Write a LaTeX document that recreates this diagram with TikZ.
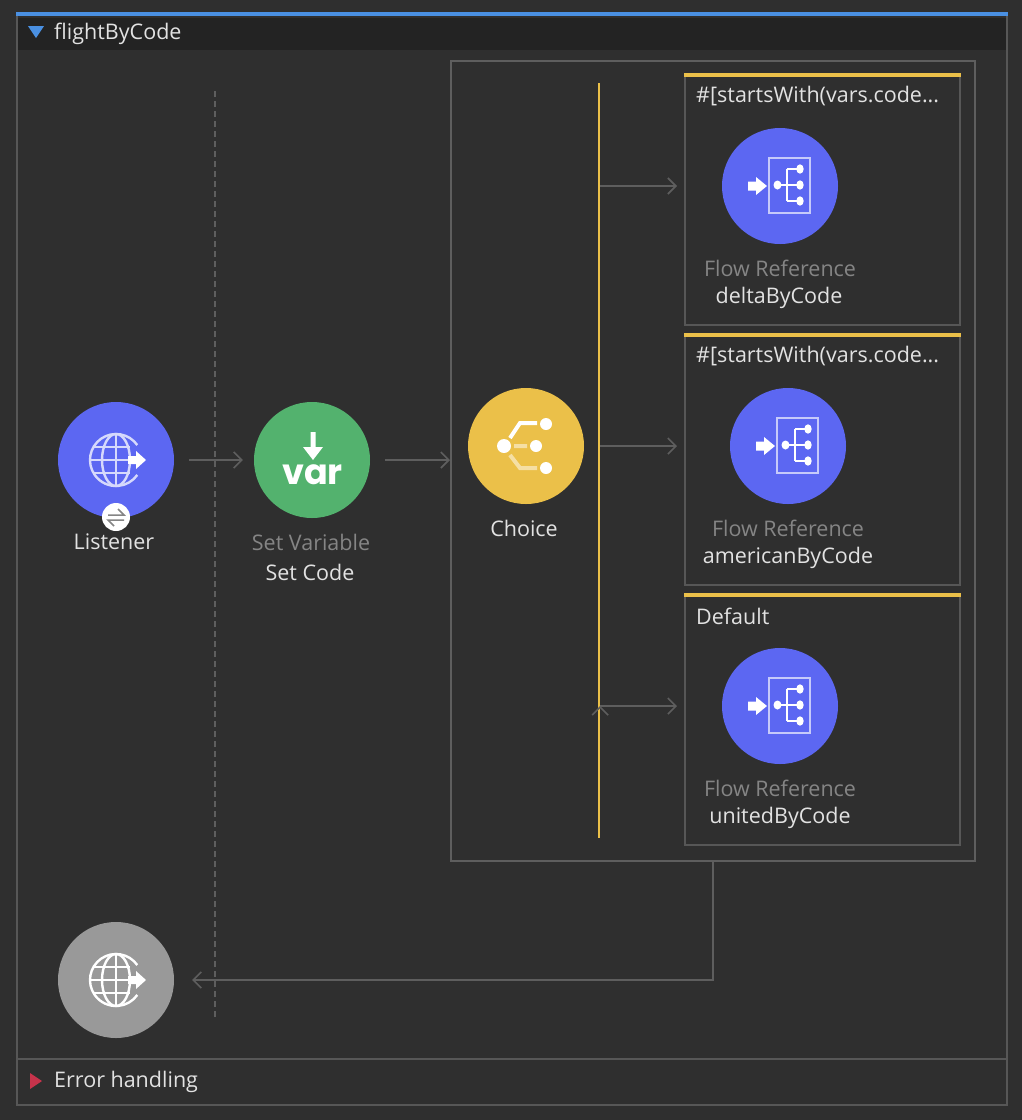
\documentclass[tikz,border=0pt]{standalone}
\usepackage{fontspec}
\setmainfont{Open Sans}
\newfontfamily\varfont{Poppins}
\usetikzlibrary{arrows.meta}
\definecolor{bgdark}{HTML}{2F2F2F}
\definecolor{headdark}{HTML}{232323}
\definecolor{framegrey}{HTML}{575757}
\definecolor{linegrey}{HTML}{5E5E5E}
\definecolor{flowblue}{HTML}{5C67F2}
\definecolor{vargreen}{HTML}{53B26E}
\definecolor{choiceyellow}{HTML}{EBC049}
\definecolor{topblue}{HTML}{4A90E2}
\definecolor{errred}{HTML}{C7334B}
\definecolor{labelgrey}{HTML}{858585}
\definecolor{labelwhite}{HTML}{E2E2E2}

\tikzset{
 globeicon/.pic={
  \draw[line width=2.4pt] ([shift={(35:26pt)}]0,0) arc[start angle=35,end angle=325,radius=26pt];
  \draw[line width=2.4pt] (0,0) circle[x radius=14pt,y radius=26pt];
  \draw[line width=2.4pt] (0,-26) -- (0,26) (-26,0) -- (12,0) (-22,-13) -- (14,-13) (-22,13) -- (14,13);
  \fill[white] (12,-4) -- (20,-4) -- (20,-9) -- (30,0) -- (20,9) -- (20,4) -- (12,4) -- cycle;
 },
 flowicon/.pic={
  \draw[line width=2pt,color=white!65!flowblue] (-11.5,-28) rectangle (29.5,27);
  \fill[white] (-32,-4.5) -- (-24,-4.5) -- (-24,-9) -- (-13,0) -- (-24,9) -- (-24,4.5) -- (-32,4.5) -- cycle;
  \draw[white,line width=1.6pt] (-2,-1) -- (20,-1) (7,-17) -- (7,15) (7,-17) -- (20,-17) (7,15) -- (20,15);
  \fill[white] (-2.5,-1) circle[x radius=4pt,y radius=4.5pt];
  \foreach \dy in {-17,-1,15}
   \fill[white] (20,\dy) circle[x radius=3.7pt,y radius=4.7pt];
 }
}

\begin{document}
\begin{tikzpicture}[x=1pt,y=-1pt,>={Straight Barb[length=8pt,width=16pt,line width=1.6pt]},
 every node/.style={font=\fontsize{21.5}{26}\selectfont,text=labelwhite,inner sep=0pt},
 step circle/.style={circle,minimum size=116pt},
 casebox/.style={draw=framegrey,line width=2pt,minimum width=275pt,minimum height=249pt},
 flowline/.style={draw=linegrey,line width=1.6pt},
 greylabel/.style={text=labelgrey}]
 \useasboundingbox (0,0) rectangle (1022,1120);
 \fill[bgdark] (0,0) rectangle (1022,1120);

 % frame
 \node[draw=framegrey,line width=2pt,fill=bgdark,minimum width=990pt,minimum height=1090pt] (frame) at (512, 560) {};
 \node[fill=headdark,minimum width=988pt,minimum height=32pt] (head) at (512, 34) {};
 \draw[topblue,line width=4pt] (frame.north west) -- (frame.north east);
 \coordinate (divl) at (17, 1059);
 \coordinate (divr) at (1007, 1059);
 \draw[framegrey,line width=2pt] (divl) -- (divr);
 \fill[topblue] (28,26) -- (44,26) -- (36,38) -- cycle;
 \fill[errred] (30,1073) -- (42,1081) -- (30,1089) -- cycle;
 \node[anchor=west] (title) at (54, 34) {flightByCode};
 \node[anchor=west] (errtitle) at (54, 1082) {Error handling};

 % dashed divider
 \coordinate (dasht) at (215, 91);
 \coordinate (dashb) at (215, 1017);
 \draw[linegrey,line width=1.6pt,dash pattern=on 6pt off 4pt] (dasht) -- (dashb);

 % choice scope and cases
 \node[draw=linegrey,line width=2pt,minimum width=524pt,minimum height=800pt] (scope) at (713, 461) {};
 \node[fill=choiceyellow,minimum width=2pt,minimum height=755pt] (bar) at (599, 460.5) {};
 \node[casebox] (casea) at (822.5, 200.5) {};
 \node[casebox] (caseb) at (822.5, 460.5) {};
 \node[casebox] (casec) at (822.5, 720.5) {};
 \foreach \c in {casea,caseb,casec}
  \draw[choiceyellow,line width=4pt] (\c.north west) -- (\c.north east);
 \node[anchor=west] (heada) at (696, 96) {\#[startsWith(vars.code...};
 \node[anchor=west] (headb) at (696, 356) {\#[startsWith(vars.code...};
 \node[anchor=west] (headc) at (696, 616) {Default};

 % circles
 \node[step circle,fill=flowblue] (listener) at (116, 460) {};
 \node[step circle,fill=vargreen] (setvar) at (312, 460) {};
 \node[step circle,fill=choiceyellow] (choice) at (526, 446) {};
 \node[step circle,fill=flowblue] (flowa) at (780, 186) {};
 \node[step circle,fill=flowblue] (flowb) at (788, 446) {};
 \node[step circle,fill=flowblue] (flowc) at (780, 706) {};
 \node[step circle,fill=black!40!white] (response) at (116, 980) {};

 % icons
 \pic[color=white!75!flowblue] at (116, 460) {globeicon};
 \pic[color=white] at (116, 980) {globeicon};
 \pic at (780, 186) {flowicon};
 \pic at (788, 446) {flowicon};
 \pic at (780, 706) {flowicon};
 \fill[white] (310.5,432) -- (315.5,432) -- (315.5,447) -- (323,447) -- (313,460) -- (303,447) -- (310.5,447) -- cycle;
 \node[text=white] (varword) at (312.5, 475) {\varfont\fontsize{35}{40}\selectfont\bfseries var};
 \node[circle,fill=white,minimum size=28pt] (badge) at (116, 517) {};
 \draw[labelgrey,line width=1.5pt] (108,515) -- (124,515) -- (118,509) (124,520) -- (108,520) -- (114,526);
 \fill[white] (504,446) circle[radius=7pt];
 \fill[white] (546,424) circle[radius=6pt];
 \fill[white] (536,446) circle[radius=6pt];
 \fill[white] (546,468) circle[radius=6pt];
 \draw[white,line width=4pt] (510,438) -- (520,423) -- (537,423);
 \draw[white,opacity=.5,line width=4pt] (514,446) -- (527,446) (510,455) -- (520,468) -- (537,468);

 % labels
 \node (lblisten) at (114, 542) {Listener};
 \node[greylabel] (lbset) at (311, 542) {Set Variable};
 \node (lbcode) at (310, 572) {Set Code};
 \node (lbchoice) at (524, 528) {Choice};
 \node[greylabel] (lbflowa) at (780, 268) {Flow Reference};
 \node (lbdelta) at (779, 298) {deltaByCode};
 \node[greylabel] (lbflowb) at (788, 528) {Flow Reference};
 \node (lbamerican) at (788, 558) {americanByCode};
 \node[greylabel] (lbflowc) at (780, 788) {Flow Reference};
 \node (lbunited) at (780, 818) {unitedByCode};

 % connectors
 \path[->,flowline] (listener) edge[shorten <=15pt,shorten >=11pt] (setvar)
 (setvar) edge[shorten <=15pt,shorten >=0pt] (setvar -| scope.west)
 (bar.east |- flowa) edge[shorten >=7pt] (casea.west |- flowa)
 (bar.east |- flowb) edge[shorten >=7pt] (caseb.west |- flowb)
 (bar.east |- flowc) edge[shorten >=7pt] (casec.west |- flowc);
 \draw[->,flowline,shorten >=18pt] (scope.south) |- (response);
\end{tikzpicture}
\end{document}
